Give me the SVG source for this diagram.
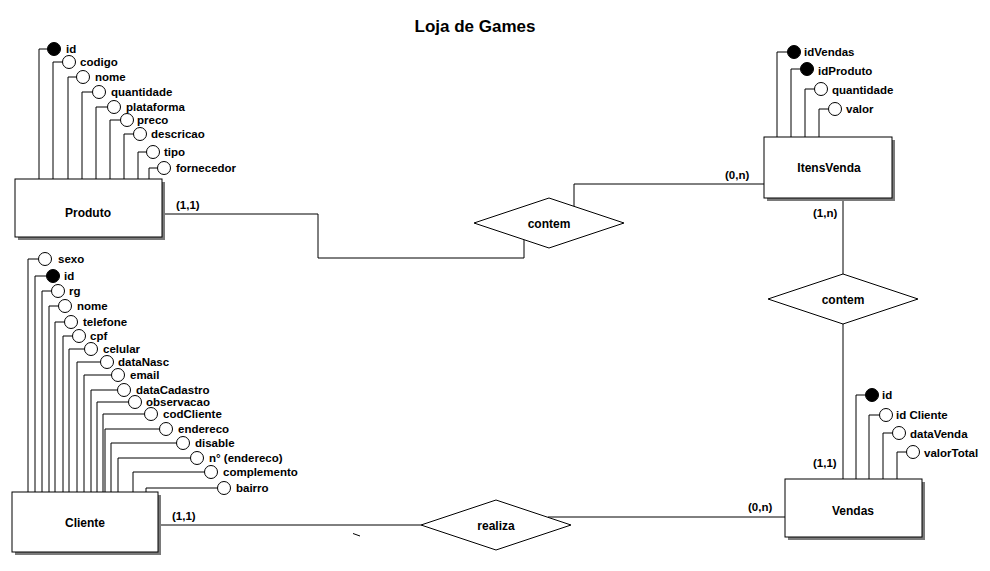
<svg xmlns="http://www.w3.org/2000/svg" width="990" height="571" viewBox="0 0 990 571">
<style>
text{font-family:"Liberation Sans",Arial,sans-serif;font-weight:bold;fill:#000}
.t{font-size:17px}
.a{font-size:11.5px}
.e{font-size:12px}
.c{font-size:11.5px}
.ln{fill:none;stroke:#000;stroke-width:1}
.box{fill:#fff;stroke:#000;stroke-width:1}
.sh{fill:#7a7a7a}
.o{fill:#fff;stroke:#000;stroke-width:1}
.k{fill:#000;stroke:#000;stroke-width:1}
</style>
<rect width="990" height="571" fill="#fff"/>
<text class="t" x="475" y="32" text-anchor="middle">Loja de Games</text>

<g id="connectors">
<polyline class="ln" points="162,214 318,214 318,258 524,258 524,240"/>
<polyline class="ln" points="574,207 574,184 764,184"/>
<line class="ln" x1="843" y1="198" x2="843" y2="274"/>
<line class="ln" x1="843" y1="324" x2="843" y2="479"/>
<line class="ln" x1="158" y1="525" x2="421" y2="525"/>
<line class="ln" x1="548" y1="517" x2="785" y2="517"/>
<line class="ln" x1="353" y1="533.5" x2="360" y2="536"/>
<text class="c" x="176" y="209">(1,1)</text>
<text class="c" x="725" y="179">(0,n)</text>
<text class="c" x="813" y="217">(1,n)</text>
<text class="c" x="813" y="467">(1,1)</text>
<text class="c" x="748" y="511">(0,n)</text>
<text class="c" x="172" y="520">(1,1)</text>
</g>

<g id="produto">
<path class="ln" d="M39,179V49H47.5 M53,179V62H62.5 M68,179V77H76.5 M82,179V92H92.5 M96,179V107H107.5 M110,179V120H120.5 M124,179V134H133.5 M138,179V152H146.5 M149,179V168H157.5"/>
<circle class="k" cx="54" cy="49" r="6.5"/>
<circle class="o" cx="69" cy="62" r="6.5"/>
<circle class="o" cx="83" cy="77" r="6.5"/>
<circle class="o" cx="99" cy="92" r="6.5"/>
<circle class="o" cx="114" cy="107" r="6.5"/>
<circle class="o" cx="127" cy="120" r="6.5"/>
<circle class="o" cx="140" cy="134" r="6.5"/>
<circle class="o" cx="153" cy="152" r="6.5"/>
<circle class="o" cx="164" cy="168" r="6.5"/>
<text class="a" x="66" y="53">id</text>
<text class="a" x="80" y="66">codigo</text>
<text class="a" x="95" y="81">nome</text>
<text class="a" x="111" y="96">quantidade</text>
<text class="a" x="126" y="111">plataforma</text>
<text class="a" x="137" y="124">preco</text>
<text class="a" x="151" y="138">descricao</text>
<text class="a" x="164" y="156">tipo</text>
<text class="a" x="176" y="172">fornecedor</text>
<rect class="sh" x="18" y="182" width="147" height="58"/>
<rect class="box" x="15" y="179" width="147" height="58"/>
<text class="e" x="88" y="217" text-anchor="middle">Produto</text>
</g>

<g id="itensvenda">
<path class="ln" d="M777,137V52H787.5 M791,137V69H800.5 M805,137V89H814.5 M819,137V109H828.5"/>
<circle class="k" cx="794" cy="52" r="6.5"/>
<circle class="k" cx="807" cy="69" r="6.5"/>
<circle class="o" cx="821" cy="89" r="6.5"/>
<circle class="o" cx="835" cy="109" r="6.5"/>
<text class="a" x="804" y="56">idVendas</text>
<text class="a" x="818" y="75">idProduto</text>
<text class="a" x="832" y="94">quantidade</text>
<text class="a" x="846" y="113">valor</text>
<rect class="sh" x="767" y="140" width="128" height="61"/>
<rect class="box" x="764" y="137" width="128" height="61"/>
<text class="e" x="829" y="172" text-anchor="middle">ItensVenda</text>
</g>

<g id="vendas">
<path class="ln" d="M856,479V395H865.5 M869,479V415H879.5 M883,479V433H892.5 M897,479V452H906.5"/>
<circle class="k" cx="872" cy="395" r="6.5"/>
<circle class="o" cx="886" cy="415" r="6.5"/>
<circle class="o" cx="899" cy="433" r="6.5"/>
<circle class="o" cx="913" cy="452" r="6.5"/>
<text class="a" x="882" y="399">id</text>
<text class="a" x="896" y="419">id Cliente</text>
<text class="a" x="910" y="438">dataVenda</text>
<text class="a" x="924" y="457">valorTotal</text>
<rect class="sh" x="788" y="482" width="137" height="58"/>
<rect class="box" x="785" y="479" width="137" height="58"/>
<text class="e" x="853" y="515" text-anchor="middle">Vendas</text>
</g>

<g id="cliente">
<path class="ln" d="M28,492V259H38.5 M35,492V276H46.5 M42,492V291H51.5 M49,492V306H58.5 M55,492V322H64.5 M63,492V336H72.5 M69,492V349H84.5 M77,492V362H100.5 M84,492V375H111.5 M91,492V390H117.5 M97,492V402H128.5 M103,492V414H144.5 M105,492V429H159.5 M111,492V443H176.5 M118,492V458H190.5 M133,492V472H204.5 M146,492V488H217.5"/>
<circle class="o" cx="45" cy="259" r="6.5"/>
<circle class="k" cx="53" cy="276" r="6.5"/>
<circle class="o" cx="58" cy="291" r="6.5"/>
<circle class="o" cx="65" cy="306" r="6.5"/>
<circle class="o" cx="71" cy="322" r="6.5"/>
<circle class="o" cx="79" cy="336" r="6.5"/>
<circle class="o" cx="91" cy="349" r="6.5"/>
<circle class="o" cx="107" cy="362" r="6.5"/>
<circle class="o" cx="118" cy="375" r="6.5"/>
<circle class="o" cx="124" cy="390" r="6.5"/>
<circle class="o" cx="135" cy="402" r="6.5"/>
<circle class="o" cx="151" cy="414" r="6.5"/>
<circle class="o" cx="166" cy="429" r="6.5"/>
<circle class="o" cx="183" cy="443" r="6.5"/>
<circle class="o" cx="197" cy="458" r="6.5"/>
<circle class="o" cx="211" cy="472" r="6.5"/>
<circle class="o" cx="224" cy="488" r="6.5"/>
<text class="a" x="58" y="263">sexo</text>
<text class="a" x="64" y="280">id</text>
<text class="a" x="69" y="295">rg</text>
<text class="a" x="77" y="310">nome</text>
<text class="a" x="83" y="326">telefone</text>
<text class="a" x="90" y="340">cpf</text>
<text class="a" x="103" y="353">celular</text>
<text class="a" x="118" y="366">dataNasc</text>
<text class="a" x="130" y="379">email</text>
<text class="a" x="136" y="394">dataCadastro</text>
<text class="a" x="146" y="406">observacao</text>
<text class="a" x="163" y="418">codCliente</text>
<text class="a" x="178" y="433">endereco</text>
<text class="a" x="195" y="447">disable</text>
<text class="a" x="209" y="462">n° (endereco)</text>
<text class="a" x="223" y="476">complemento</text>
<text class="a" x="236" y="492">bairro</text>
<rect class="sh" x="15" y="495" width="146" height="60"/>
<rect class="box" x="12" y="492" width="146" height="60"/>
<text class="e" x="85" y="527" text-anchor="middle">Cliente</text>
</g>

<g id="contem1">
<polygon class="box" points="474,223 549,198 624,223 549,248"/>
<text class="e" x="549" y="228" text-anchor="middle">contem</text>
</g>
<g id="contem2">
<polygon class="box" points="768,299 843,274 918,299 843,324"/>
<text class="e" x="843" y="304" text-anchor="middle">contem</text>
</g>
<g id="realiza">
<polygon class="box" points="421,525 496,500 571,525 496,550"/>
<text class="e" x="496" y="530" text-anchor="middle">realiza</text>
</g>
</svg>
